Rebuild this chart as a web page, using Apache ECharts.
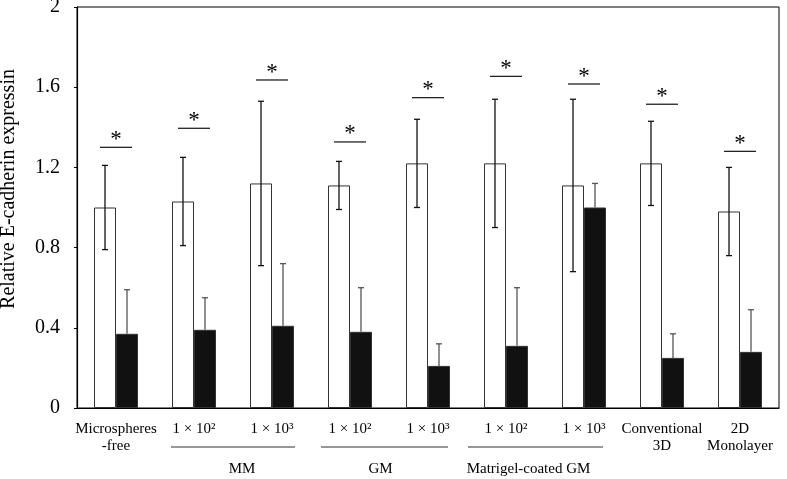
<!DOCTYPE html>
<html><head><meta charset="utf-8">
<script src="https://cdn.jsdelivr.net/npm/echarts@6/dist/echarts.min.js"></script>
<style>html,body{margin:0;padding:0;background:#fff}#c{width:787px;height:479px}</style>
</head><body><div id="c"></div>
<script>
const categories = ['Microspheres\n-free','1 × 10²','1 × 10³','1 × 10²','1 × 10³','1 × 10²','1 × 10³','Conventional\n3D','2D\nMonolayer'];
const whiteMeans = [1.00,1.03,1.12,1.11,1.22,1.22,1.11,1.22,0.98];
const whiteSD    = [0.21,0.22,0.41,0.12,0.22,0.32,0.43,0.21,0.22];
const blackMeans = [0.37,0.39,0.41,0.38,0.21,0.31,1.00,0.25,0.28];
const blackSD    = [0.22,0.16,0.31,0.22,0.11,0.29,0.12,0.12,0.21];
const sigLevels  = [1.30,1.395,1.636,1.327,1.548,1.654,1.616,1.515,1.28];
const groupNames = ['MM','GM','Matrigel-coated GM'];
const groupFrom  = [1,3,5];
const groupTo    = [2,4,6];
const yTicks = [0,0.4,0.8,1.2,1.6,2];
const yTitle = 'Relative E-cadherin expressin';

const FONT = '"Liberation Serif","Times New Roman",serif';
const BW = 22;
// per-group annotation layout tweaks (pixels): [left extension, right extension, label shift]
const groupLayout = [[-23, 23, 9], [-29, 20, -4], [-38, 19, -7]];
const chart = echarts.init(document.getElementById('c'));

function errItem(offset, color, upperOnly) {
  return function(params, api) {
    const i = api.value(0);
    const m = api.value(1), s = api.value(2);
    const c = api.coord([i, m]);
    const x = c[0] + offset;
    const top = api.coord([i, m + s])[1];
    const bot = upperOnly ? c[1] : api.coord([i, m - s])[1];
    const st = {stroke: color, lineWidth: 1.3};
    const ch = [
      {type:'line', shape:{x1:x,y1:top,x2:x,y2:bot}, style:st},
      {type:'line', shape:{x1:x-3,y1:top,x2:x+3,y2:top}, style:st}
    ];
    if (!upperOnly) ch.push({type:'line', shape:{x1:x-3,y1:bot,x2:x+3,y2:bot}, style:st});
    return {type:'group', children: ch};
  };
}

chart.setOption({
  animation: false,
  grid: {left: 77, right: 8, top: 7, bottom: 71, show: true, borderColor: '#000', borderWidth: 1,
         containLabel: false, outerBoundsMode: 'none'},
  xAxis: {
    type: 'category', data: categories,
    axisLine: {lineStyle: {color: '#000', width: 1.2}},
    axisTick: {inside: true, length: 4, lineStyle: {color: '#000'}},
    axisLabel: {color: '#000', fontFamily: FONT, fontSize: 15, lineHeight: 17, margin: 13, interval: 0}
  },
  yAxis: {
    type: 'value', min: 0, max: 2, interval: 0.4,
    splitLine: {show: false},
    axisLine: {show: true, lineStyle: {color: '#000', width: 1.2}},
    axisTick: {show: true, length: 3, lineStyle: {color: '#000'}},
    axisLabel: {color: '#000', fontFamily: FONT, fontSize: 20, margin: 17,
      formatter: v => { const t = yTicks.find(k => Math.abs(k - v) < 1e-6); return t === undefined ? '' : String(t); }}
  },
  series: [
    {type: 'bar', data: whiteMeans, barWidth: BW, barGap: '0%',
     itemStyle: {color: '#fff', borderColor: '#333', borderWidth: 1}},
    {type: 'bar', data: blackMeans, barWidth: BW,
     itemStyle: {color: '#111', borderColor: '#333', borderWidth: 1}},
    {type: 'custom', z: 5, renderItem: errItem(-BW/2, '#111', false),
     data: whiteMeans.map((m,i) => [i, m, whiteSD[i]])},
    {type: 'custom', z: 5, renderItem: errItem(BW/2, '#555', true),
     data: blackMeans.map((m,i) => [i, m, blackSD[i]])},
    {type: 'custom', z: 5, data: sigLevels.map((v,i) => [i, v]),
     renderItem: function(params, api) {
       const c = api.coord([api.value(0), api.value(1)]);
       return {type:'group', children:[
         {type:'line', shape:{x1:c[0]-16,y1:c[1],x2:c[0]+16,y2:c[1]}, style:{stroke:'#222', lineWidth:1.3}},
         {type:'text', style:{text:'*', x:c[0], y:c[1]+4, align:'center', verticalAlign:'bottom',
           font:'23px ' + FONT, fill:'#000'}}
       ]};
     }}
  ]
});

const gfx = [];
for (let g = 0; g < groupNames.length; g++) {
  const L = groupLayout[g];
  const x1 = chart.convertToPixel({xAxisIndex: 0}, groupFrom[g]) + L[0];
  const x2 = chart.convertToPixel({xAxisIndex: 0}, groupTo[g]) + L[1];
  gfx.push({type: 'line', shape: {x1: x1, y1: 447, x2: x2, y2: 447}, style: {stroke: '#333', lineWidth: 1.2}});
  gfx.push({type: 'text', x: (x1 + x2) / 2 + L[2], y: 469,
    style: {text: groupNames[g], align: 'center', verticalAlign: 'middle', font: '15px ' + FONT, fill: '#000'}});
}
gfx.push({type: 'text', x: 9, y: 189, rotation: Math.PI / 2,
  style: {text: yTitle, align: 'center', verticalAlign: 'middle', font: '20px ' + FONT, fill: '#000'}});
chart.setOption({graphic: gfx});
</script></body></html>
